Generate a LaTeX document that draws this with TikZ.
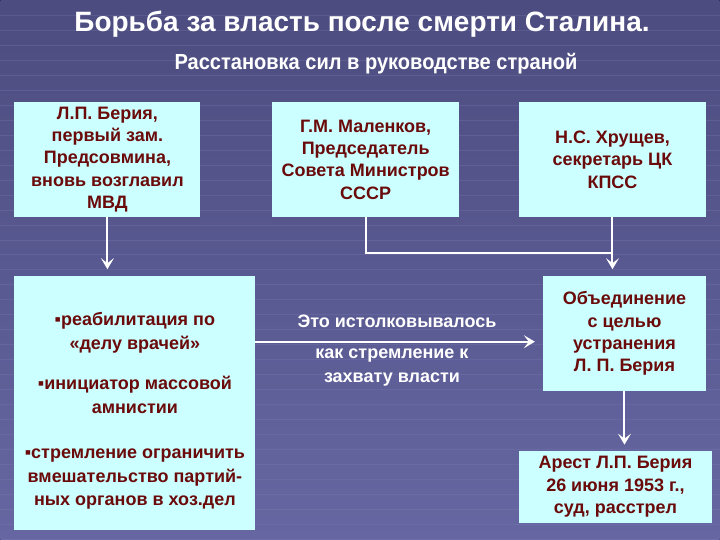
\documentclass[tikz,border=0pt]{standalone}
\usepackage{fontspec}
\setmainfont{Liberation Sans}
\usepackage{tikz}
\usetikzlibrary{arrows.meta,positioning}
\definecolor{bgtop}{HTML}{4C4C80}
\definecolor{bgbot}{HTML}{6666A2}
\definecolor{gridline}{HTML}{8484B8}
\definecolor{boxfill}{HTML}{CCFFFF}
\definecolor{boxtext}{HTML}{6A0A0A}

\begin{document}
\begin{tikzpicture}[x=1pt,y=-1pt,
 box/.style={fill=boxfill,align=center,anchor=north west,inner sep=3pt,
   font=\fontsize{18}{22.3}\selectfont\bfseries,text=boxtext},
 arrow/.style={-{Stealth[length=11pt,width=13pt,inset=5pt]},line width=2pt,draw=white},
 link/.style={line width=2pt,draw=white},
 lbl/.style={text=white,font=\fontsize{18}{24}\selectfont\bfseries,align=center}
]
% background
\fill[top color=bgtop,bottom color=bgbot] (0,0) rectangle (720,540);
\foreach \y in {15,30,...,540}
  \draw[gridline,opacity=0.25,line width=0.6pt] (0,\y) -- (720,\y);
\useasboundingbox (0,0) rectangle (720,540);
% headings
\node[text=white,font=\fontsize{28}{32}\selectfont\bfseries] (title) at (362,24) {Борьба за власть после смерти Сталина.};
\node[text=white,font=\fontsize{21.8}{26}\selectfont\bfseries] (subtitle) at (376,64) {\scalebox{0.92}[1]{Расстановка сил в руководстве страной}};
% top row
\node[box,minimum width=186pt,minimum height=115pt] (beria) at (14,102) {Л.П. Берия,\\первый зам.\\Предсовмина,\\вновь возглавил\\МВД};
\node[box,minimum width=187pt,minimum height=115pt] (malenkov) at (272,102) {Г.М. Маленков,\\Председатель\\Совета Министров\\СССР};
\node[box,minimum width=187pt,minimum height=115pt] (khrush) at (519,102) {Н.С. Хрущев,\\секретарь ЦК\\КПСС};
% lower part
\node[box,minimum width=241pt,minimum height=254pt,
  font=\fontsize{18}{23.5}\selectfont\bfseries] (deeds) at (14,276) {\raisebox{-8pt}[\height][\depth]{\begin{tabular}{@{}c@{}}▪реабилитация по\\«делу врачей»\\[17pt]▪инициатор массовой\\амнистии\\[22pt]▪стремление ограничить\\вмешательство партий-\\ных органов в хоз.дел\end{tabular}}};
\node[box,minimum width=163pt,minimum height=115pt] (union) at (543,276) {Объединение\\с целью\\устранения\\Л. П. Берия};
\node[box,minimum width=193pt,minimum height=72pt] (arrest) at (519,451) {Арест Л.П. Берия\\26 июня 1953 г.,\\суд, расстрел};
% labels on the middle arrow
\node[lbl] (interp) at (397,322) {Это истолковывалось};
\node[lbl] (aim) at (392,368) {как стремление к\\захвату власти};
% connectors
\coordinate (join) at (khrush.south |- 0,253);
\draw[arrow] (beria.south) -- ++(0,52);
\draw[link] (malenkov.south) |- (join);
\draw[arrow] (khrush.south) -- ++(0,52);
\draw[arrow] (deeds.east |- 0,342) -- ([xshift=-8pt]union.west |- 0,342);
\draw[arrow] (union.south) -- (union.south |- 0,445);
\end{tikzpicture}
\end{document}
